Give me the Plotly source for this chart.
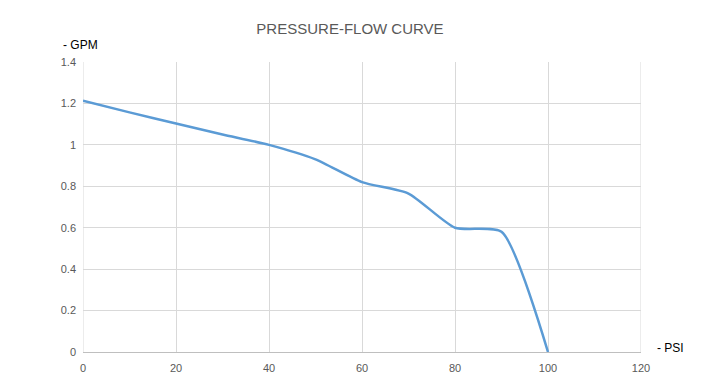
import plotly.graph_objects as go

psi = [0, 10, 20, 30, 40, 50, 60, 70, 80, 90, 100]
gpm = [1.213, 1.157, 1.103, 1.05, 1.0, 0.93, 0.82, 0.765, 0.6, 0.58, 0.0]
x_ticks = [0, 20, 40, 60, 80, 100, 120]
y_ticks = [0, 0.2, 0.4, 0.6, 0.8, 1, 1.2, 1.4]

fig = go.Figure()
fig.add_trace(go.Scatter(
    x=psi, y=gpm, mode="lines",
    line=dict(color="#5b9bd5", width=2.5, shape="spline", smoothing=0.6),
    showlegend=False, hoverinfo="x+y"))

font_family = "Liberation Sans, Arial, sans-serif"
fig.update_layout(
    width=723, height=383,
    margin=dict(l=75, r=90, t=54, b=39),
    paper_bgcolor="white", plot_bgcolor="white",
    title=dict(text="PRESSURE-FLOW CURVE", x=342/723, xanchor="center",
               y=1 - 21/383, yanchor="middle",
               font=dict(family=font_family, size=15, color="#595959")),
    font=dict(family=font_family, size=11, color="#595959"),
    xaxis=dict(range=[0, 120], tickvals=x_ticks, ticktext=[str(v) for v in x_ticks],
               showgrid=True, gridcolor="#d9d9d9", gridwidth=1,
               zeroline=False, showline=True, linecolor="#bfbfbf", linewidth=1,
               ticks="", ticklabelstandoff=6, fixedrange=True),
    yaxis=dict(range=[0, 1.4], tickvals=y_ticks, ticktext=["0", "0.2", "0.4", "0.6", "0.8", "1", "1.2", "1.4"],
               showgrid=True, gridcolor="#d9d9d9", gridwidth=1,
               zeroline=False, showline=False, ticks="", ticklabelstandoff=6, fixedrange=True),
    annotations=[
        dict(text="- GPM", xref="paper", yref="paper", x=-22/558, y=1 + 17/290,
             xanchor="left", yanchor="middle", showarrow=False,
             font=dict(family=font_family, size=12, color="#000000")),
        dict(text="- PSI", xref="paper", yref="paper", x=1 + 14/558, y=4/290,
             xanchor="left", yanchor="middle", showarrow=False,
             font=dict(family=font_family, size=12, color="#000000")),
    ],
)
fig.add_shape(type="line", xref="x", yref="paper", x0=0, x1=0, y0=0, y1=1,
              line=dict(color="#d9d9d9", width=1), layer="below")
fig.add_shape(type="line", xref="x", yref="paper", x0=120, x1=120, y0=0, y1=1,
              line=dict(color="#d9d9d9", width=1), layer="below")

fig.write_html("out.html")
